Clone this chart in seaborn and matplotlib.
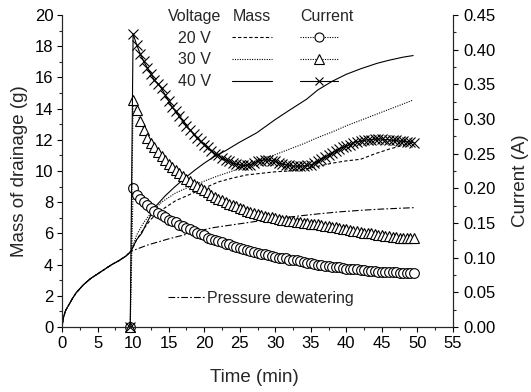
import numpy as np
import matplotlib
matplotlib.use('Agg')
import matplotlib.pyplot as plt
import seaborn as sns
from matplotlib.lines import Line2D
from matplotlib.ticker import MultipleLocator

# pressure-only stage, shared by every run (min, g)
t_pre = [0, 0.2, 0.5, 1, 1.5, 2, 3, 4, 5, 6, 7, 8, 9, 9.7]
m_pre = [0, 0.6, 1.05, 1.45, 1.85, 2.2, 2.7, 3.1, 3.4, 3.7, 4.0, 4.25, 4.55, 4.85]

# pressure dewatering only, after 9.7 min
t_press = [12, 15, 18, 21, 24, 27, 30, 33, 36, 39, 42, 45, 48, 49.5]
m_press = [5.25, 5.65, 6.0, 6.35, 6.55, 6.75, 6.95, 7.1, 7.25, 7.38, 7.48, 7.56, 7.62, 7.65]

# mass of drainage after voltage switched on
t_m40 = [10.5, 11.2, 11.9, 13.1, 14.5, 15.9, 17.3, 18.7, 20, 21.5, 23, 25, 27.4, 30,
         32, 34.4, 36, 38, 40, 42, 44.3, 46, 48, 49.4]
m_40 = [5.6, 6.0, 6.65, 7.7, 8.4, 9.0, 9.55, 10.06, 10.5, 10.95, 11.3, 11.85, 12.45, 13.3,
        13.9, 14.6, 15.2, 15.75, 16.2, 16.55, 16.9, 17.1, 17.3, 17.4]
t_m2030 = [10.5, 11.5, 12.5, 14, 16, 18, 20, 22, 24, 26, 28, 30, 32, 34, 36, 38, 40,
           42, 44, 46, 48, 49.4]
m_30 = [5.9, 6.7, 7.3, 8.0, 8.6, 9.0, 9.35, 9.7, 10.0, 10.4, 10.75, 11.05, 11.4, 11.75,
        12.15, 12.5, 12.9, 13.25, 13.6, 13.95, 14.3, 14.55]
m_20 = [5.6, 6.3, 6.9, 7.5, 8.1, 8.5, 8.9, 9.3, 9.55, 9.75, 9.85, 9.95, 10.0, 10.1,
        10.3, 10.5, 10.65, 10.75, 11.1, 11.4, 11.65, 11.8]

# current (A), logged every 30 s once the voltage is on
t_cur = np.concatenate([[9.6], np.arange(10, 50, 0.5)])
i_20 = [0.0,
        0.200, 0.191, 0.185, 0.180, 0.176, 0.171, 0.168, 0.164, 0.161, 0.158,
        0.155, 0.153, 0.151, 0.147, 0.145, 0.143, 0.141, 0.138, 0.136, 0.134,
        0.132, 0.129, 0.127, 0.126, 0.124, 0.122, 0.120, 0.119, 0.117, 0.115,
        0.114, 0.113, 0.111, 0.110, 0.108, 0.107, 0.106, 0.105, 0.104, 0.102,
        0.101, 0.100, 0.099, 0.099, 0.097, 0.097, 0.096, 0.095, 0.094, 0.093,
        0.092, 0.091, 0.090, 0.089, 0.088, 0.088, 0.087, 0.086, 0.086, 0.085,
        0.084, 0.084, 0.083, 0.083, 0.082, 0.082, 0.081, 0.081, 0.081, 0.080,
        0.080, 0.079, 0.079, 0.079, 0.079, 0.078, 0.078, 0.078, 0.078, 0.078]
i_30 = [0.0,
        0.327, 0.313, 0.297, 0.284, 0.273, 0.266, 0.259, 0.252, 0.246, 0.241,
        0.235, 0.231, 0.226, 0.222, 0.218, 0.214, 0.210, 0.206, 0.203, 0.200,
        0.197, 0.194, 0.191, 0.188, 0.185, 0.183, 0.180, 0.178, 0.176, 0.174,
        0.172, 0.170, 0.168, 0.166, 0.164, 0.163, 0.161, 0.160, 0.159, 0.158,
        0.157, 0.156, 0.155, 0.154, 0.153, 0.153, 0.152, 0.151, 0.150, 0.150,
        0.149, 0.148, 0.148, 0.147, 0.146, 0.145, 0.144, 0.144, 0.143, 0.142,
        0.141, 0.140, 0.139, 0.138, 0.137, 0.136, 0.135, 0.135, 0.134, 0.133,
        0.132, 0.131, 0.131, 0.130, 0.130, 0.129, 0.129, 0.128, 0.128, 0.128]
i_40 = [0.0,
        0.423, 0.407, 0.394, 0.383, 0.374, 0.365, 0.356, 0.351, 0.344, 0.335,
        0.326, 0.317, 0.311, 0.304, 0.297, 0.290, 0.284, 0.279, 0.272, 0.268,
        0.263, 0.259, 0.254, 0.250, 0.248, 0.244, 0.241, 0.239, 0.236, 0.235,
        0.234, 0.233, 0.233, 0.234, 0.236, 0.239, 0.240, 0.241, 0.241, 0.240,
        0.239, 0.236, 0.235, 0.234, 0.233, 0.232, 0.232, 0.232, 0.232, 0.233,
        0.234, 0.236, 0.239, 0.242, 0.245, 0.248, 0.251, 0.254, 0.257, 0.259,
        0.261, 0.263, 0.266, 0.267, 0.268, 0.269, 0.270, 0.270, 0.271, 0.271,
        0.271, 0.270, 0.270, 0.269, 0.269, 0.268, 0.268, 0.267, 0.267, 0.266]

sns.set_style('ticks')
plt.rcParams['font.family'] = ['Liberation Sans', 'DejaVu Sans']
plt.rcParams['axes.linewidth'] = 0.8

LS_20 = (0, (3, 2))
LS_30 = (0, (1, 1.2))
LS_PR = (0, (6, 2, 1.5, 2))
FS = 12      # tick labels
FS_LEG = 11.5

fig = plt.figure(figsize=(5.31, 3.92), dpi=100)
ax = fig.add_axes([62 / 531, 65 / 392, 391 / 531, 312 / 392])
ax2 = ax.twinx()

# mass curves (left axis)
sns.lineplot(x=t_pre + t_press, y=m_pre + m_press, ax=ax, color='k', lw=0.8,
             linestyle=LS_PR, estimator=None, sort=False)
sns.lineplot(x=t_pre + t_m2030, y=m_pre + m_20, ax=ax, color='k', lw=0.8,
             linestyle=LS_20, estimator=None, sort=False)
sns.lineplot(x=t_pre + t_m2030, y=m_pre + m_30, ax=ax, color='k', lw=0.8,
             linestyle=LS_30, estimator=None, sort=False)
sns.lineplot(x=t_pre + t_m40, y=m_pre + m_40, ax=ax, color='k', lw=0.8,
             linestyle='-', estimator=None, sort=False)

# current curves (right axis)
mk = dict(color='k', mfc='white', mec='k', mew=0.8, estimator=None, sort=False, clip_on=False)
sns.lineplot(x=t_cur, y=i_20, ax=ax2, lw=0.8, linestyle=LS_30, marker='o', ms=7, **mk)
sns.lineplot(x=t_cur, y=i_30, ax=ax2, lw=0.8, linestyle=LS_30, marker='^', ms=7.5, **mk)
sns.lineplot(x=t_cur, y=i_40, ax=ax2, lw=0.8, linestyle='-', marker='x', ms=7, **mk)

ax.set_xlim(0, 55)
ax.set_ylim(0, 20)
ax2.set_ylim(0, 0.45)
ax.xaxis.set_major_locator(MultipleLocator(5))
ax.xaxis.set_minor_locator(MultipleLocator(2.5))
ax.yaxis.set_major_locator(MultipleLocator(2))
ax.yaxis.set_minor_locator(MultipleLocator(1))
ax2.yaxis.set_major_locator(MultipleLocator(0.05))
ax2.yaxis.set_minor_locator(MultipleLocator(0.025))
ax2.yaxis.set_major_formatter(plt.FormatStrFormatter('%.2f'))

for a in (ax, ax2):
    a.spines['top'].set_visible(False)
    a.tick_params(which='major', direction='out', length=3.8, width=0.8, labelsize=FS, colors='k')
    a.tick_params(which='minor', direction='out', length=2.2, width=0.8)
ax.tick_params(axis='y', pad=2.5)
ax.tick_params(axis='x', pad=3)
ax2.tick_params(axis='y', pad=3.5)

ax.set_xlabel('Time (min)', fontsize=13.5)
ax.set_ylabel('Mass of drainage (g)', fontsize=13.5)
ax2.set_ylabel('Current (A)', fontsize=13.5)
ax.xaxis.set_label_coords(0.491, -0.135)
ax.yaxis.set_label_coords(-0.087, 0.5)
ax2.yaxis.set_label_coords(1.151, 0.468)


def fig_xy(px, py):
    return (px / 531, 1 - py / 392)


common = dict(loc='upper left', bbox_transform=fig.transFigure, frameon=False,
              borderpad=0, borderaxespad=0, labelspacing=0.42, fontsize=FS_LEG,
              title_fontsize=FS_LEG)
blank = [Line2D([], [], linestyle='none') for _ in range(3)]
leg_v = ax2.legend(blank, ['20 V', '30 V', '40 V'], title='Voltage', bbox_to_anchor=fig_xy(168, 9),
                   handlelength=0, handletextpad=0, **common)
ax2.add_artist(leg_v)

mass_h = [Line2D([], [], color='k', lw=0.8, linestyle=s) for s in (LS_20, LS_30, '-')]
leg_m = ax2.legend(mass_h, ['', '', ''], title='Mass', bbox_to_anchor=fig_xy(232, 9),
                   handlelength=2.5, handletextpad=0, **common)
ax2.add_artist(leg_m)

cur_h = [Line2D([], [], color='k', lw=0.8, linestyle=s, marker=m, ms=ms, mfc='white', mew=0.8)
         for s, m, ms in ((LS_30, 'o', 6.5), (LS_30, '^', 7), ('-', 'x', 6))]
leg_c = ax2.legend(cur_h, ['', '', ''], title='Current', bbox_to_anchor=fig_xy(300, 9),
                   handlelength=2.4, handletextpad=0, numpoints=1, alignment='left', **common)
ax2.add_artist(leg_c)

pr_h = [Line2D([], [], color='k', lw=0.8, linestyle=LS_PR)]
ax2.legend(pr_h, ['Pressure dewatering'], loc='center left', bbox_to_anchor=fig_xy(168, 298),
           bbox_transform=fig.transFigure, frameon=False, borderpad=0, borderaxespad=0,
           handlelength=2.3, handletextpad=0.15, fontsize=FS_LEG)

fig.savefig('out.png', dpi=100)
